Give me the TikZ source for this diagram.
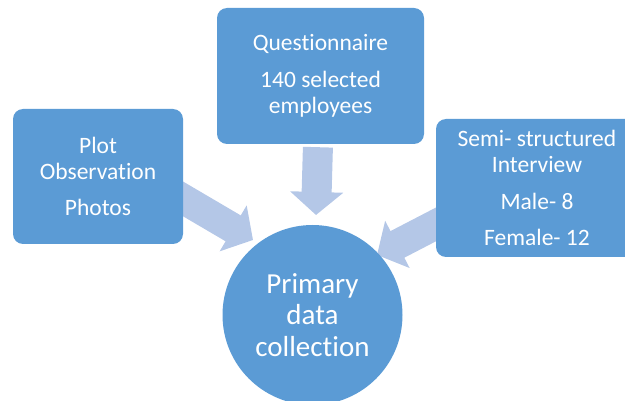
\documentclass[tikz,border=0pt]{standalone}
\usepackage{fontspec}
\setmainfont{Carlito}[Ligatures=NoCommon]
\usetikzlibrary{arrows.meta}
\usetikzlibrary{backgrounds}

\definecolor{boxblue}{HTML}{5B9BD5}
\definecolor{arrowblue}{HTML}{B4C7E7}

\begin{document}
\begin{tikzpicture}[x=1pt, y=-1pt,
    source/.style={fill=boxblue, rounded corners=10pt, text=white, align=center,
      font=\fontsize{23.5}{26}\selectfont, inner sep=0pt},
    feed/.style={draw=arrowblue, line width=30pt,
      -{Triangle[width=52pt, length=23pt, fill=arrowblue]}}
  ]
  \useasboundingbox (0,0) rectangle (625,401);
  \clip (0,0) rectangle (625,401);
  \node[circle, fill=boxblue, minimum size=180pt, text=white, align=center,
    font=\fontsize{29}{31.5}\selectfont, inner sep=0pt] at (312.5,315) (prim)
    {Primary\\data\\collection};
  \node[source, minimum width=170pt, minimum height=135pt] at (98,176.5) (plot)
    {Plot\\Observation\\[10.5pt]Photos};
  \node[source, minimum width=207pt, minimum height=136pt] at (320.5,76) (quest)
    {Questionnaire\\[10.5pt]140 selected\\employees};
  \node[source, minimum width=202pt, minimum height=138pt] at (537,188) (inter)
    {Semi- structured\\Interview\\[10.5pt]Male- 8\\[10.5pt]Female- 12};
  % arrow tips, just short of the circle
  \coordinate (tipP) at (253,240);
  \coordinate (tipQ) at (316,215);
  \coordinate (tipI) at (377,255);
  % block arrows sit under the boxes
  \begin{pgfonlayer}{background}
    \draw[feed, shorten <=-20pt] ([yshift=-22.5pt]plot.east) -- (tipP);
    \draw[feed, shorten <=3pt] ([xshift=-2.5pt]quest.south) -- (tipQ);
    \draw[feed, shorten <=-20pt] ([yshift=-36.5pt]inter.west) -- (tipI);
  \end{pgfonlayer}
\end{tikzpicture}
\end{document}
